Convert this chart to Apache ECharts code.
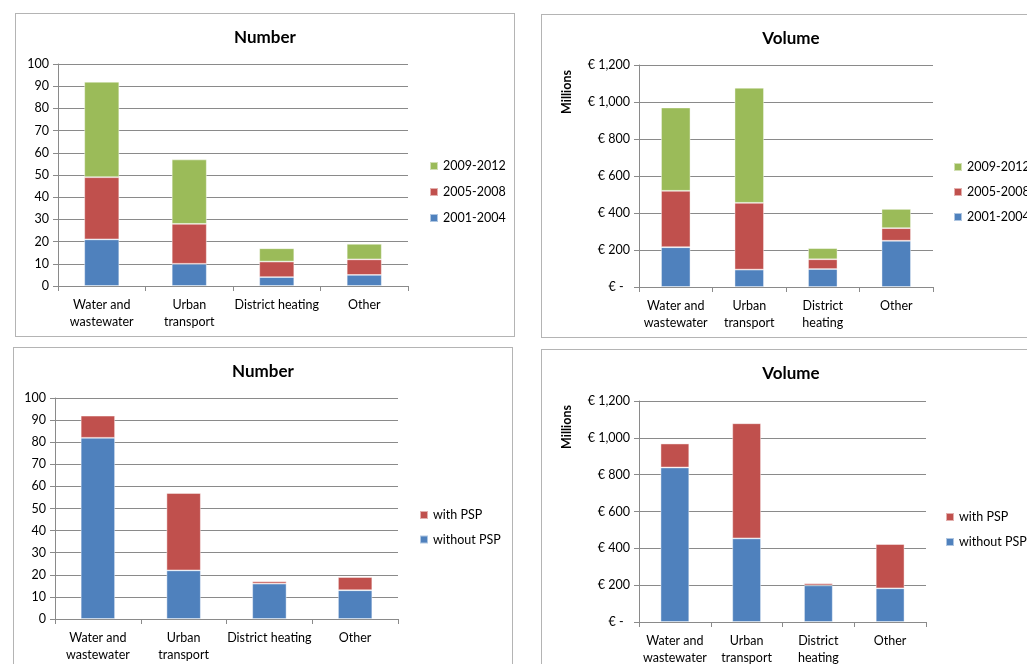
<!DOCTYPE html>
<html>
<head>
<meta charset="utf-8">
<script src="https://cdn.jsdelivr.net/npm/echarts@6/dist/echarts.min.js"></script>
<style>
  html, body { margin: 0; padding: 0; width: 1027px; height: 664px; overflow: hidden; background: #fff; }
  .panel { position: absolute; box-sizing: border-box; border: 1px solid #b4b4b4; background: #fff; }
</style>
</head>
<body>
<div id="p1" class="panel" style="left:15px; top:13px; width:500px; height:324px;"></div>
<div id="p2" class="panel" style="left:541px; top:14px; width:500px; height:324px;"></div>
<div id="p3" class="panel" style="left:13px; top:347px; width:500px; height:330px;"></div>
<div id="p4" class="panel" style="left:541px; top:349px; width:500px; height:330px;"></div>
<script>
// Sectors
const sectorsWide = ['Water and\nwastewater', 'Urban\ntransport', 'District heating', 'Other'];
const sectorsNarrow = ['Water and\nwastewater', 'Urban\ntransport', 'District\nheating', 'Other'];

// Periods
const periods = ['2001-2004', '2005-2008', '2009-2012'];

// Number of projects by period
const number2001 = [21, 10, 4, 5];
const number2005 = [28, 18, 7, 7];
const number2009 = [43, 29, 6, 7];

// Volume (EUR millions) by period
const volume2001 = [215, 94, 97, 250];
const volume2005 = [305, 361, 53, 68];
const volume2009 = [450, 622, 60, 104];

// PSP split
const pspNames = ['without PSP', 'with PSP'];
const numberWithoutPSP = [82, 22, 16, 13];
const numberWithPSP = [10, 35, 1, 6];
const volumeWithoutPSP = [839, 454, 199, 183];
const volumeWithPSP = [130, 625, 11, 240];

const BLUE = '#4f81bd', RED = '#c0504d', GREEN = '#9bbb59';
const FONT = 'Lato, "Open Sans", sans-serif';
const GRID_COLOR = '#8a8a8a';

function euro(v) {
  if (v === 0) return '€ -  ';
  return '€ ' + v.toLocaleString('en-US');
}

function buildOption(cfg) {
  const series = cfg.series.map(s => ({
    name: s.name,
    type: 'bar',
    stack: 'total',
    barWidth: '40%',
    data: s.data,
    itemStyle: { color: s.color, borderColor: 'rgba(255,255,255,0.55)', borderWidth: 0.8 },
    emphasis: { disabled: true }
  }));
  const opt = {
    animation: false,
    textStyle: { fontFamily: FONT },
    title: {
      text: cfg.title,
      left: 'center',
      top: cfg.titleTop,
      padding: 0,
      textStyle: { fontFamily: FONT, fontSize: 17, fontWeight: 'bold', color: '#000' }
    },
    legend: {
      orient: 'vertical',
      left: cfg.legendLeft,
      top: cfg.legendTop,
      padding: 0,
      data: cfg.legendOrder,
      itemWidth: 8,
      itemHeight: 8,
      itemGap: cfg.legendGap,
      icon: 'rect',
      selectedMode: false,
      textStyle: { fontFamily: FONT, fontSize: 12.5, color: '#000', lineHeight: 14 }
    },
    grid: { left: cfg.grid.left, top: cfg.grid.top, width: cfg.grid.width, height: cfg.grid.height, containLabel: false },
    xAxis: {
      type: 'category',
      data: cfg.categories,
      axisLine: { lineStyle: { color: GRID_COLOR, width: 1 } },
      axisTick: { show: true, length: 5, interval: 0, lineStyle: { color: GRID_COLOR } },
      axisLabel: { interval: 0, margin: 10, fontFamily: FONT, fontSize: 12.5, color: '#000', lineHeight: 17 }
    },
    yAxis: {
      type: 'value',
      min: 0,
      max: cfg.yMax,
      interval: cfg.yInterval,
      axisLine: { show: true, lineStyle: { color: GRID_COLOR, width: 1 } },
      axisTick: { show: true, length: 5, lineStyle: { color: GRID_COLOR } },
      splitLine: { show: true, lineStyle: { color: GRID_COLOR, width: 1 } },
      axisLabel: { margin: 9, fontFamily: FONT, fontSize: 12.5, color: '#000', formatter: cfg.yFormatter }
    },
    series: series
  };
  if (cfg.yName) {
    opt.graphic = [{
      type: 'text',
      x: cfg.yName.x,
      y: cfg.yName.y,
      rotation: Math.PI / 2,
      style: {
        text: cfg.yName.text,
        fontFamily: FONT,
        fontSize: 12.5,
        fontWeight: 'bold',
        fill: '#000',
        textAlign: 'center',
        textVerticalAlign: 'middle'
      }
    }];
  }
  return opt;
}

const charts = [
  {
    el: 'p1', title: 'Number', titleTop: 15,
    categories: sectorsWide, yMax: 100, yInterval: 10,
    grid: { left: 42, top: 50, width: 350, height: 222 },
    legendLeft: 413, legendTop: 145, legendGap: 12,
    legendOrder: [periods[2], periods[1], periods[0]],
    series: [
      { name: periods[0], data: number2001, color: BLUE },
      { name: periods[1], data: number2005, color: RED },
      { name: periods[2], data: number2009, color: GREEN }
    ]
  },
  {
    el: 'p2', title: 'Volume', titleTop: 15,
    categories: sectorsNarrow, yMax: 1200, yInterval: 200, yFormatter: euro,
    grid: { left: 97, top: 50, width: 294, height: 222 },
    legendLeft: 411, legendTop: 145, legendGap: 11,
    legendOrder: [periods[2], periods[1], periods[0]],
    yName: { text: 'Millions', x: 25, y: 77 },
    series: [
      { name: periods[0], data: volume2001, color: BLUE },
      { name: periods[1], data: volume2005, color: RED },
      { name: periods[2], data: volume2009, color: GREEN }
    ]
  },
  {
    el: 'p3', title: 'Number', titleTop: 15,
    categories: sectorsWide, yMax: 100, yInterval: 10,
    grid: { left: 41, top: 50, width: 343, height: 221 },
    legendLeft: 405, legendTop: 160, legendGap: 10.5,
    legendOrder: [pspNames[1], pspNames[0]],
    series: [
      { name: pspNames[0], data: numberWithoutPSP, color: BLUE },
      { name: pspNames[1], data: numberWithPSP, color: RED }
    ]
  },
  {
    el: 'p4', title: 'Volume', titleTop: 15,
    categories: sectorsNarrow, yMax: 1200, yInterval: 200, yFormatter: euro,
    grid: { left: 97, top: 51, width: 287, height: 221 },
    legendLeft: 403, legendTop: 160, legendGap: 11,
    legendOrder: [pspNames[1], pspNames[0]],
    yName: { text: 'Millions', x: 25, y: 77 },
    series: [
      { name: pspNames[0], data: volumeWithoutPSP, color: BLUE },
      { name: pspNames[1], data: volumeWithPSP, color: RED }
    ]
  }
];

charts.forEach(cfg => {
  const chart = echarts.init(document.getElementById(cfg.el), null, { renderer: 'canvas' });
  chart.setOption(buildOption(cfg));
});
</script>
</body>
</html>
